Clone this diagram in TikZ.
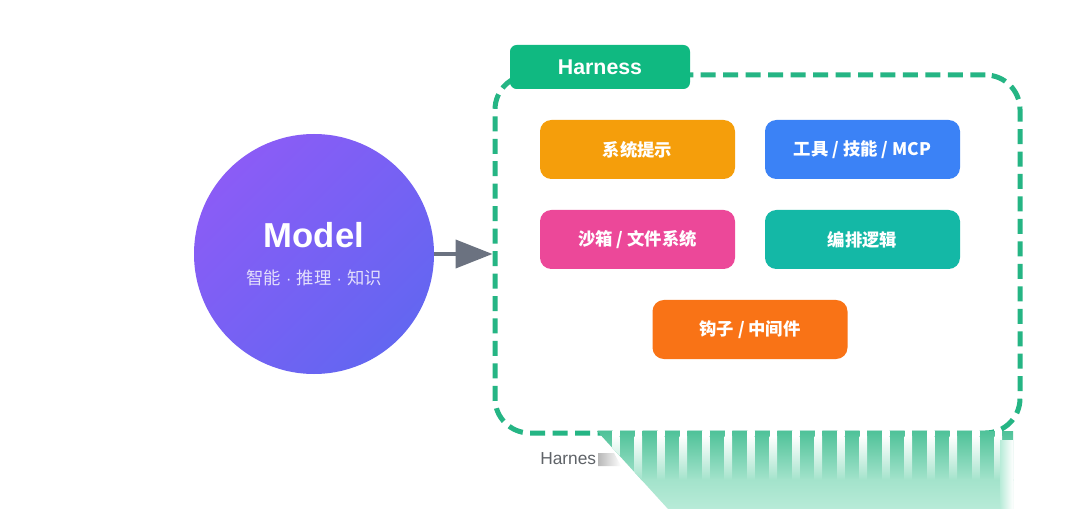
\documentclass[tikz,border=0pt]{standalone}
\usepackage{fontspec}
\setmainfont{Liberation Sans}
\newfontfamily\cjk{Noto Sans CJK SC}
\usetikzlibrary{arrows.meta,shapes.geometric}
\definecolor{modtop}{HTML}{8B5CF6}
\definecolor{modbot}{HTML}{6366F1}
\definecolor{lav}{HTML}{E4E0FC}
\definecolor{hgreen}{HTML}{25B584}
\definecolor{tabgreen}{HTML}{10B981}
\definecolor{arrowgray}{HTML}{6B7280}
\definecolor{cA}{HTML}{F59E0B}
\definecolor{cB}{HTML}{3B82F6}
\definecolor{cC}{HTML}{EC4899}
\definecolor{cD}{HTML}{14B8A6}
\definecolor{cE}{HTML}{F97316}
\definecolor{capgray}{HTML}{5F6368}
\definecolor{mintA}{HTML}{4FC299}
\definecolor{mintM}{HTML}{A3E3CB}
\definecolor{mintB}{HTML}{B8EBD8}
\newcommand\mdot{\hspace{4pt}{\normalfont\fontsize{12}{14}\selectfont ·}\hspace{4pt}}
\begin{document}
\begin{tikzpicture}[x=0.75pt,y=-0.75pt,
  box/.style={rectangle, rounded corners=8.5pt, minimum width=146.25pt, minimum height=44.25pt,
    text=white, font=\cjk\bfseries\fontsize{13}{15}\selectfont, inner sep=0pt}]
\useasboundingbox (0,0) rectangle (1080,509);
\fill[white] (0,0) rectangle (1080,509);

% Model circle
\node[circle, minimum size=180pt, inner sep=0pt, top color=modtop, bottom color=modbot, shading angle=45] (model) at (314,254) {};
\node[text=white, font=\bfseries\fontsize{26}{30}\selectfont, inner sep=0pt] (mtitle) at (314,235) {Model};
\node[text=lav, font=\cjk\fontsize{13}{15}\selectfont, inner sep=0pt] (msub) at (314,278) {智能\mdot 推理\mdot 知识};

% Harness frame
\node[draw=hgreen, line width=3.75pt, dash pattern=on 11.25pt off 5.6pt, rounded corners=26pt,
  minimum width=393.75pt, minimum height=268.5pt, inner sep=0pt] (harness) at (757.5,254) {};
\node[fill=tabgreen, rounded corners=5pt, minimum width=135pt, minimum height=33pt, text=white,
  font=\bfseries\fontsize{16}{19}\selectfont, inner sep=0pt] (tab) at (600,67) {Harness};

% arrow
\draw[arrowgray, line width=3pt, -{Triangle[length=27.75pt,width=21pt]}] (model) -- (harness.west);

% boxes
\node[box, fill=cA] (sys) at (637.5,149.5) {系统提示};
\node[box, fill=cB] (tool) at (862.5,149.5) {工具 / 技能 / MCP};
\node[box, fill=cC] (sand) at (637.5,239.5) {沙箱 / 文件系统};
\node[box, fill=cD] (orch) at (862.5,239.5) {编排逻辑};
\node[box, fill=cE] (hook) at (750,329.5) {钩子 / 中间件};

% caption
\node[text=capgray, font=\fontsize{13}{15}\selectfont, anchor=west, inner sep=0pt] (cap) at (540,459) {Harnes};
\shade[left color=black!28, right color=white] (598,453) -- (614,453) -- (621,466) -- (598,466) -- cycle;

% rendering artefact
\begin{scope}
\clip (597,431) -- (1013,431) -- (1013,509) -- (668,509) -- cycle;
\shade[top color=mintA, bottom color=mintM] (597,431) rectangle (1013,480);
\shade[top color=mintM, bottom color=mintB] (597,479.5) rectangle (1013,509);
\foreach \i in {0,...,18} {
  \shade[top color=white, bottom color=mintM] ({612+22.5*\i},436) rectangle ({619.5+22.5*\i},480);
  \fill[white] ({612+22.5*\i},431) rectangle ({619.5+22.5*\i},436);
}
\shade[left color=mintB, right color=white] (1000,440) rectangle (1013,509);
\end{scope}
\end{tikzpicture}
\end{document}
